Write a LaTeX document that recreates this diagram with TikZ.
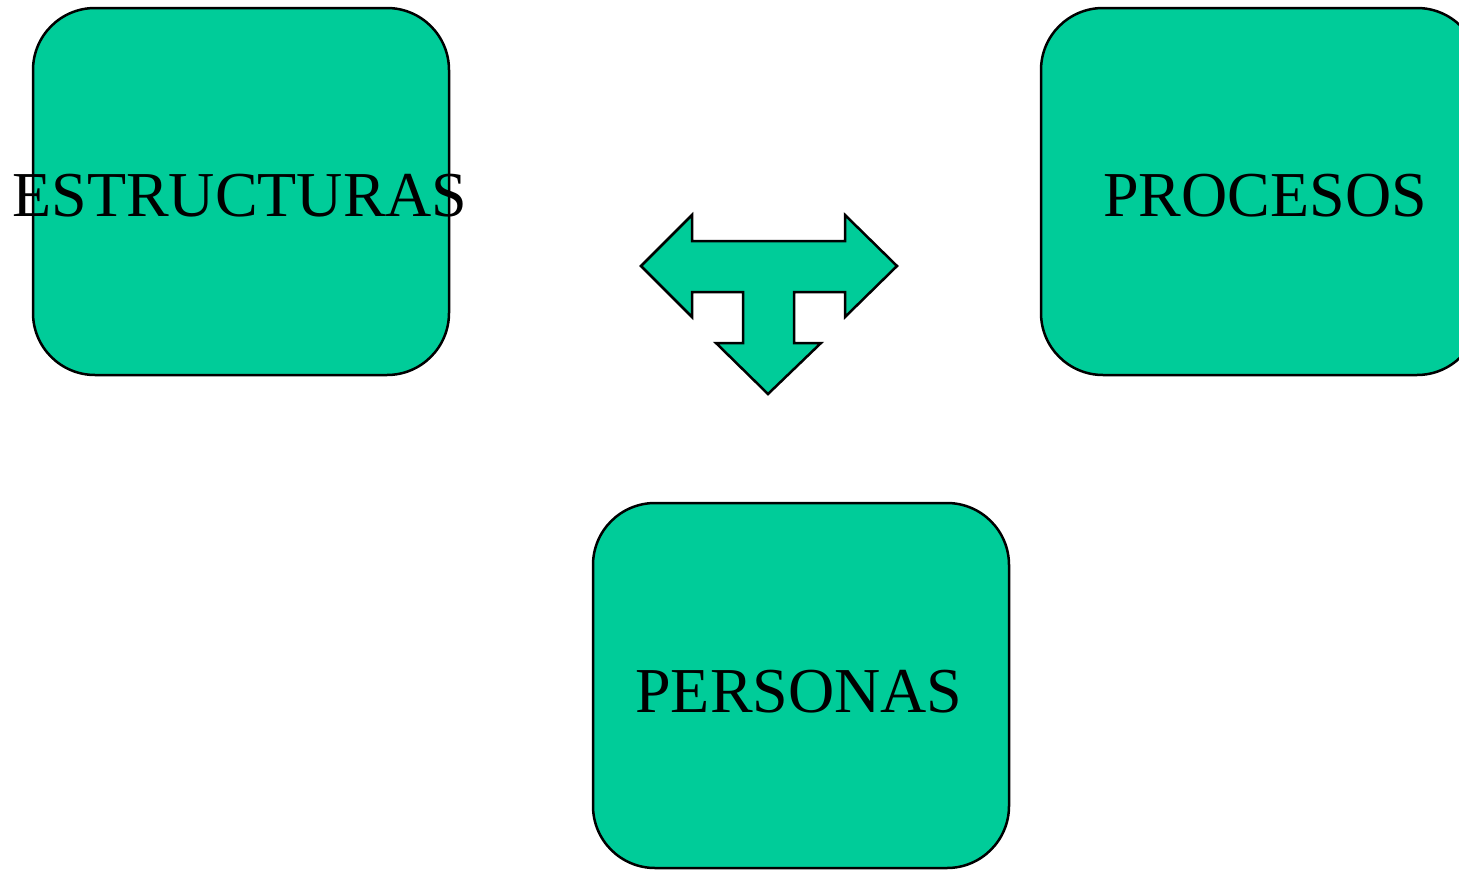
\documentclass[tikz,border=0pt]{standalone}
\usepackage{fontspec}
\setmainfont{Liberation Serif}
\definecolor{boxgreen}{HTML}{00CC99}
\begin{document}
\begin{tikzpicture}[x=1pt,y=-1pt,
  box/.style={draw=black,fill=boxgreen,line width=2.5pt,rounded corners=62pt},
  lbl/.style={anchor=base,inner sep=0pt,font=\fontsize{64}{70}\selectfont},
  tarrow/.style={draw=black,fill=boxgreen,line width=2.5pt,line join=miter}]
\useasboundingbox (0,0) rectangle (1459,870);
\clip (0,0) rectangle (1459,870);
\draw[box] (33,8) rectangle (449,375);
\draw[box] (1041,8) rectangle (1479,375);
\draw[box] (593,503) rectangle (1009,868);
\node[lbl] (estr) at (240,216) {ESTRUCTURAS};
\node[lbl] (proc) at (1265,216) {PROCESOS};
\node[lbl] (pers) at (799,712) {PERSONAS};
\draw[tarrow] (641,266) -- (692,215) -- (692,241) -- (845,241) -- (845,215)
  -- (897,266) -- (845,317) -- (845,292) -- (794,292) -- (794,343)
  -- (821,343) -- (768,394) -- (716,343) -- (743,343) -- (743,292)
  -- (692,292) -- (692,317) -- cycle;
\end{tikzpicture}
\end{document}
